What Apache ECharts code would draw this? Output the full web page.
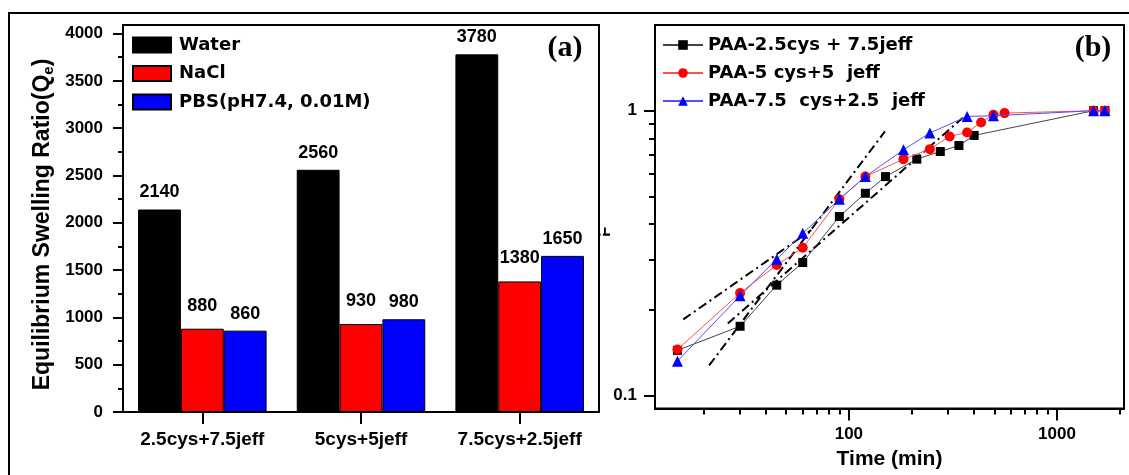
<!DOCTYPE html>
<html>
<head>
<meta charset="utf-8">
<script src="https://cdn.jsdelivr.net/npm/echarts@6/dist/echarts.min.js"></script>
<style>
  html, body { margin: 0; padding: 0; background: #fff; }
  #main { width: 1129px; height: 475px; }
</style>
</head>
<body>
<div id="main"></div>
<script>
// (a) equilibrium swelling ratio by formulation and medium
const formulations = ['2.5cys+7.5jeff', '5cys+5jeff', '7.5cys+2.5jeff'];
const waterQe = [2140, 2560, 3780];
const naclQe = [880, 930, 1380];
const pbsQe = [860, 980, 1650];
const qeTicks = [0, 500, 1000, 1500, 2000, 2500, 3000, 3500, 4000];
const qeMinorTicks = [250, 750, 1250, 1750, 2250, 2750, 3250, 3750];

// (b) fractional swelling F against time (min), log-log
const kinetics25 = [[15, 0.144], [30, 0.175], [45, 0.244], [60, 0.293], [90, 0.425], [120, 0.513], [150, 0.587], [212, 0.676], [275, 0.719], [338, 0.755], [400, 0.819], [1500, 1.0], [1700, 1.0]];
const kinetics50 = [[15, 0.145], [30, 0.229], [45, 0.287], [60, 0.330], [90, 0.489], [120, 0.587], [183, 0.676], [245, 0.733], [305, 0.812], [370, 0.839], [432, 0.909], [495, 0.968], [560, 0.981], [1500, 1.0], [1700, 1.0]];
const kinetics75 = [[15, 0.132], [30, 0.224], [45, 0.301], [60, 0.371], [90, 0.489], [120, 0.587], [183, 0.729], [245, 0.835], [370, 0.955], [495, 0.960], [1500, 1.0], [1700, 1.0]];
// power-law fit segments (dash-dot), end points [t, F]
const fitEarly = [[16, 0.185], [66, 0.381]];
const fitSteep = [[21.3, 0.1275], [149, 0.846]];
const fitLong = [[26.2, 0.179], [353, 0.945]];
const timeTicks = [100, 1000];
const timeMinorTicks = [20, 30, 40, 50, 60, 70, 80, 90, 200, 300, 400, 500, 600, 700, 800, 900, 2000];
const fTicks = [0.1, 1];
const fMinorTicks = [0.2, 0.3, 0.4, 0.5, 0.6, 0.7, 0.8, 0.9];

const AR = "'Liberation Sans', Arial, sans-serif";
const DV = "'DejaVu Sans', sans-serif";
const BLACK = '#000';

const axisLine = { show: true, lineStyle: { color: BLACK, width: 2 } };
const tickStyle = { color: BLACK, width: 2 };
const tickLabel = (size, margin, values) => ({
  show: true, customValues: values, color: BLACK, fontFamily: AR, fontWeight: 'bold',
  fontSize: size, margin: margin, formatter: v => String(v)
});
const minorAxis = (len, values) => ({
  axisLine: { show: false },
  axisTick: { show: true, length: len, customValues: values, lineStyle: tickStyle },
  axisLabel: { show: false },
  splitLine: { show: false }
});

const barLabel = (dist) => ({
  show: true, position: 'top', distance: dist, color: BLACK,
  fontFamily: AR, fontWeight: 'bold', fontSize: 18
});

const fitLine = (data) => ({
  type: 'line', xAxisIndex: 1, yAxisIndex: 2, data: data, symbol: 'none',
  silent: true, z: 1,
  lineStyle: { color: BLACK, width: 2, type: [9, 4, 2, 4] }
});

const chart = echarts.init(document.getElementById('main'), null, { renderer: 'canvas' });

chart.setOption({
  backgroundColor: '#fff',
  animation: false,
  grid: [
    { left: 123, top: 25, width: 476, height: 387, show: true, borderColor: BLACK, borderWidth: 2, containLabel: false },
    { left: 655, top: 25, width: 469, height: 383.5, show: true, borderColor: BLACK, borderWidth: 2, containLabel: false }
  ],
  legend: [
    {
      data: ['Water', 'NaCl', 'PBS(pH7.4, 0.01M)'],
      orient: 'vertical', left: 132, top: 36, padding: 0, icon: 'rect',
      itemWidth: 38, itemHeight: 15, itemGap: 10.5,
      textStyle: { color: BLACK, fontFamily: DV, fontWeight: 'bold', fontSize: 18, padding: [0, 0, 0, 3] }
    },
    {
      data: ['PAA-2.5cys + 7.5jeff', 'PAA-5 cys+5  jeff', 'PAA-7.5  cys+2.5  jeff'],
      orient: 'vertical', left: 662, top: 36, padding: 0,
      itemWidth: 40, itemHeight: 12, itemGap: 10,
      textStyle: { color: BLACK, fontFamily: DV, fontWeight: 'bold', fontSize: 18 }
    }
  ],
  xAxis: [
    {
      gridIndex: 0, type: 'category', data: formulations, position: 'bottom',
      axisLine: axisLine,
      axisTick: { show: true, alignWithLabel: true, interval: 0, length: 12, lineStyle: tickStyle },
      axisLabel: { interval: 0, color: BLACK, fontFamily: AR, fontWeight: 'bold', fontSize: 19, margin: 18 }
    },
    {
      gridIndex: 1, type: 'log', logBase: 10, min: 11.7, max: 2100, position: 'bottom',
      name: 'Time (min)', nameLocation: 'middle', nameGap: 40,
      nameTextStyle: { color: BLACK, fontFamily: AR, fontWeight: 'bold', fontSize: 21 },
      splitLine: { show: false },
      axisLine: axisLine,
      axisTick: { show: true, length: 12, customValues: timeTicks, lineStyle: tickStyle },
      axisLabel: tickLabel(17, 17, timeTicks)
    },
    Object.assign({ gridIndex: 1, type: 'log', logBase: 10, min: 11.7, max: 2100, position: 'bottom' }, minorAxis(6, timeMinorTicks))
  ],
  yAxis: [
    {
      gridIndex: 0, type: 'value', min: 0, max: 4090, position: 'left',
      name: 'Equilibrium Swelling Ratio(Q{s|e})', nameLocation: 'middle', nameGap: 67,
      nameTextStyle: {
        color: BLACK, fontFamily: AR, fontWeight: 'bold', fontSize: 23, padding: [0, 12, 0, 0],
        rich: { s: { color: BLACK, fontFamily: AR, fontWeight: 'bold', fontSize: 15, padding: [12, 0, 0, 0] } }
      },
      axisLine: axisLine,
      axisTick: { show: true, length: 10, customValues: qeTicks, lineStyle: tickStyle },
      axisLabel: tickLabel(17, 20, qeTicks),
      splitLine: { show: false }
    },
    Object.assign({ gridIndex: 0, type: 'value', min: 0, max: 4090, position: 'left' }, minorAxis(5, qeMinorTicks)),
    {
      gridIndex: 1, type: 'log', logBase: 10, min: 0.09, max: 2, position: 'left',
      axisLine: axisLine,
      axisTick: { show: true, length: 11, customValues: fTicks, lineStyle: tickStyle },
      axisLabel: tickLabel(17, 18, fTicks),
      splitLine: { show: false }
    },
    Object.assign({ gridIndex: 1, type: 'log', logBase: 10, min: 0.09, max: 2, position: 'left' }, minorAxis(6, fMinorTicks))
  ],
  series: [
    {
      type: 'bar', name: 'Water', xAxisIndex: 0, yAxisIndex: 0, data: waterQe,
      barGap: '0%', barCategoryGap: '19%',
      itemStyle: { color: '#000000', borderColor: BLACK, borderWidth: 1 },
      label: barLabel(8)
    },
    {
      type: 'bar', name: 'NaCl', xAxisIndex: 0, yAxisIndex: 0, data: naclQe,
      barGap: '0%', barCategoryGap: '19%',
      itemStyle: { color: '#ff0000', borderColor: BLACK, borderWidth: 1 },
      label: barLabel(14)
    },
    {
      type: 'bar', name: 'PBS(pH7.4, 0.01M)', xAxisIndex: 0, yAxisIndex: 0, data: pbsQe,
      barGap: '0%', barCategoryGap: '19%',
      itemStyle: { color: '#0000ff', borderColor: BLACK, borderWidth: 1 },
      label: barLabel(8)
    },
    fitLine(fitEarly), fitLine(fitSteep), fitLine(fitLong),
    {
      type: 'line', name: 'PAA-2.5cys + 7.5jeff', xAxisIndex: 1, yAxisIndex: 2, data: kinetics25,
      symbol: 'rect', symbolSize: 9, z: 2,
      itemStyle: { color: '#000' }, lineStyle: { color: '#444', width: 1 }
    },
    {
      type: 'line', name: 'PAA-5 cys+5  jeff', xAxisIndex: 1, yAxisIndex: 2, data: kinetics50,
      symbol: 'circle', symbolSize: 10, z: 3,
      itemStyle: { color: '#ff0000' }, lineStyle: { color: '#ff5050', width: 1 }
    },
    {
      type: 'line', name: 'PAA-7.5  cys+2.5  jeff', xAxisIndex: 1, yAxisIndex: 2, data: kinetics75,
      symbol: 'triangle', symbolSize: 11, z: 4,
      itemStyle: { color: '#0000ff' }, lineStyle: { color: '#5050ff', width: 1 }
    }
  ],
  graphic: [
    {
      type: 'polyline', silent: true,
      shape: { points: [[9, 475], [9, 13], [1129, 13]] },
      style: { stroke: BLACK, lineWidth: 2, fill: null }
    },
    {
      type: 'text', silent: true, x: 565, y: 48,
      style: { text: '(a)', fill: BLACK, font: "bold 30px 'Liberation Serif', 'Times New Roman', serif", textAlign: 'center', textVerticalAlign: 'middle' }
    },
    {
      type: 'text', silent: true, x: 1093, y: 48,
      style: { text: '(b)', fill: BLACK, font: "bold 30px 'Liberation Serif', 'Times New Roman', serif", textAlign: 'center', textVerticalAlign: 'middle' }
    },
    {
      type: 'text', silent: true, x: 605, y: 237, rotation: Math.PI / 2,
      style: { text: 'F', fill: BLACK, font: "bold 17px 'Liberation Sans', Arial, sans-serif", textAlign: 'left', textVerticalAlign: 'middle' }
    },
    {
      type: 'rect', silent: true, z: 100,
      shape: { x: 600.6, y: 215, width: 2.3, height: 30 },
      style: { fill: '#fff' }
    }
  ]
});
</script>
</body>
</html>
